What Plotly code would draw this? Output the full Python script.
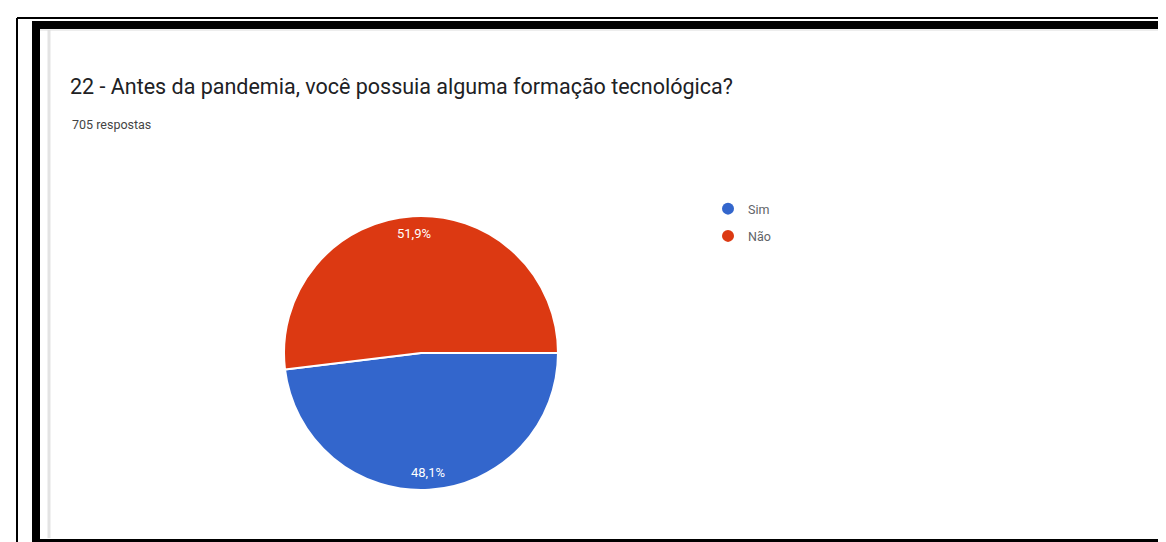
import math
import plotly.graph_objects as go

# Data
categories = ["Sim", "Não"]
counts = [339, 366]  # 48,1% / 51,9% of 705
colors = ["#3366cc", "#dc3912"]
title_text = "22 - Antes da pandemia, você possuia alguma formação tecnológica?"
subtitle_text = "705 respostas"

W, H = 1166, 542

def px(x):
    return x / W

def py(y):
    return 1 - y / H

cx, cy, r = 413, 345, 137
start_deg = 90  # first slice starts at 3 o'clock, clockwise

fig = go.Figure()
fig.add_trace(go.Pie(
    labels=categories,
    values=counts,
    marker=dict(colors=colors, line=dict(color="white", width=2)),
    sort=False,
    direction="clockwise",
    rotation=start_deg,
    textinfo="none",
    hoverinfo="label+percent",
    showlegend=False,
    domain=dict(x=[px(cx - r), px(cx + r)], y=[py(cy + r), py(cy - r)]),
))

for i, (name, col) in enumerate(zip(categories, colors)):
    fig.add_trace(go.Scatter(
        x=[None], y=[None], mode="markers", name=name,
        legendgroup=f"g{i}",
        marker=dict(color=col, size=12, symbol="circle"),
    ))

# slice labels placed along each slice's bisector (derived from the data)
total = sum(counts)
annotations = []
acc = 0.0
label_r = 120
for v in counts:
    frac = v / total
    mid = math.radians(start_deg + 360 * (acc + frac / 2))
    acc += frac
    lx = cx + label_r * math.sin(mid)
    ly = cy - label_r * math.cos(mid)
    annotations.append(dict(
        text=f"{frac * 100:.1f}%".replace(".", ","),
        xref="paper", yref="paper", x=px(lx), y=py(ly),
        xanchor="center", yanchor="middle", showarrow=False,
        font=dict(family="Roboto", size=13, color="white"),
    ))

annotations.append(dict(text=subtitle_text, xref="paper", yref="paper", x=px(62), y=py(116),
                        xanchor="left", yanchor="middle", showarrow=False,
                        font=dict(family="Roboto", size=12.5, color="#444444")))

shapes = []
# outer thin line
shapes.append(dict(type="line", xref="paper", yref="paper", x0=px(9), x1=px(9), y0=0, y1=py(10),
                   line=dict(color="black", width=2)))
shapes.append(dict(type="line", xref="paper", yref="paper", x0=px(9), x1=1.01, y0=py(10), y1=py(10),
                   line=dict(color="black", width=2)))
# thick frame
shapes.append(dict(type="line", xref="paper", yref="paper", x0=px(28), x1=px(28), y0=py(539), y1=py(13),
                   line=dict(color="black", width=8)))
shapes.append(dict(type="line", xref="paper", yref="paper", x0=px(24), x1=1.01, y0=py(17), y1=py(17),
                   line=dict(color="black", width=8)))
shapes.append(dict(type="line", xref="paper", yref="paper", x0=px(24), x1=1.01, y0=py(535), y1=py(535),
                   line=dict(color="black", width=8)))
# inner light gray edges
shapes.append(dict(type="line", xref="paper", yref="paper", x0=px(41), x1=px(41), y0=py(530), y1=py(22),
                   line=dict(color="#e3e3e3", width=3)))
shapes.append(dict(type="line", xref="paper", yref="paper", x0=px(32), x1=1.01, y0=py(22), y1=py(22),
                   line=dict(color="#dcdcdc", width=1)))

fig.update_layout(
    width=W, height=H,
    margin=dict(l=0, r=0, t=0, b=0),
    paper_bgcolor="white", plot_bgcolor="white",
    separators=",.",
    shapes=shapes,
    xaxis=dict(visible=False), yaxis=dict(visible=False),
    title=dict(text=title_text, x=px(62), xanchor="left", y=py(78), yanchor="middle",
               font=dict(family="Roboto", size=21.5, color="#202124")),
    annotations=annotations,
    legend=dict(x=px(700), y=py(186), xanchor="left", yanchor="top",
                traceorder="grouped", tracegroupgap=8,
                font=dict(family="Roboto", size=12.5, color="#5f6368"),
                bgcolor="rgba(0,0,0,0)"),
    showlegend=True,
)

fig.write_html("out.html")
